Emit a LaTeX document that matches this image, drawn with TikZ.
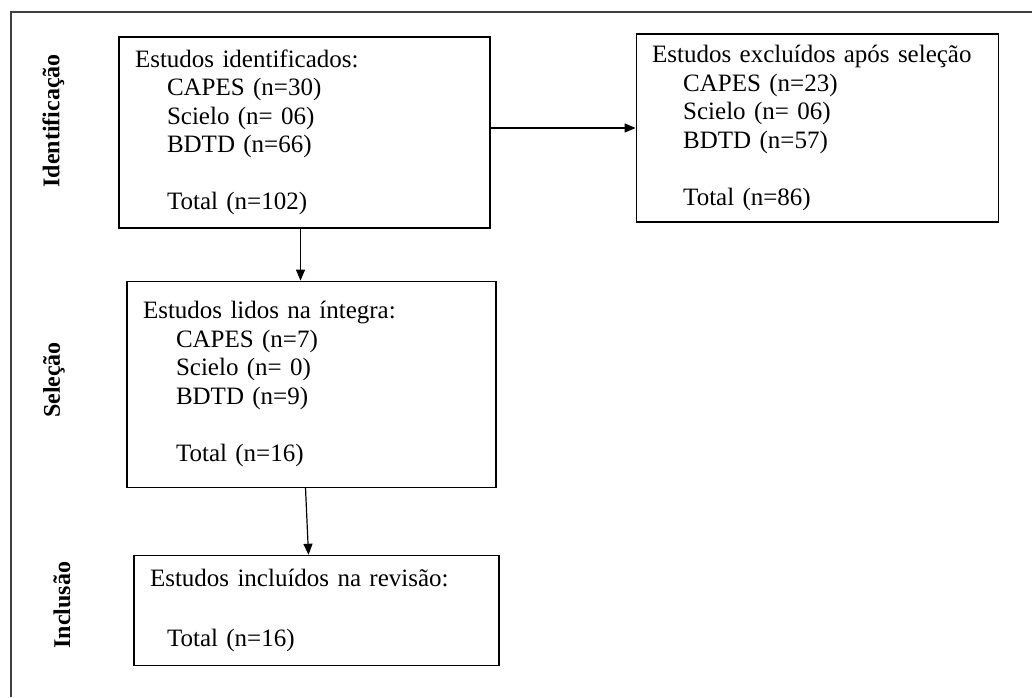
\documentclass[tikz,border=0pt]{standalone}
\usepackage{fontspec}
\setmainfont{Liberation Serif}
\usetikzlibrary{positioning, arrows.meta}

\begin{document}
\begin{tikzpicture}[x=1pt, y=1pt, node distance=52pt and 145pt]
\tikzstyle{etapa} = [rectangle, draw=black, line width=1.2pt, align=left, inner xsep=16pt, font=\fontsize{25}{28.5}\selectfont]
\tikzstyle{fase} = [rotate=90, inner sep=0pt, font=\bfseries\fontsize{24}{28}\selectfont]
\tikzstyle{seta} = [line width=1.2pt, -{Triangle[length=11pt, width=9pt]}]

\useasboundingbox (0,0) rectangle (1032,697);
% moldura
\draw [line width=1.6pt, black!75] (11,0) -- (11,685) -- (1032,685);

% Nodes
\node (ident) [etapa, text width=339pt, minimum height=191pt] at (304.5,564.5) {Estudos identificados:\\
\hspace*{32pt}CAPES (n=30)\\
\hspace*{32pt}Scielo (n= 06)\\
\hspace*{32pt}BDTD (n=66)\\[28.5pt]
\hspace*{32pt}Total (n=102)};
\node (excl) [etapa, text width=330pt, minimum height=188pt, right=of ident, yshift=4.5pt] {Estudos excluídos após seleção\\
\hspace*{31pt}CAPES (n=23)\\
\hspace*{31pt}Scielo (n= 06)\\
\hspace*{31pt}BDTD (n=57)\\[28.5pt]
\hspace*{31pt}Total (n=86)};
\node (lidos) [etapa, text width=337pt, minimum height=206pt, below=of ident, xshift=7pt] {Estudos lidos na íntegra:\\
\hspace*{33pt}CAPES (n=7)\\
\hspace*{33pt}Scielo (n= 0)\\
\hspace*{33pt}BDTD (n=9)\\[28.5pt]
\hspace*{33pt}Total (n=16)};
\node (incl) [etapa, text width=333pt, minimum height=110pt, below=67pt of lidos, xshift=5pt] {Estudos incluídos na revisão:\\[32pt]
\hspace*{17pt}Total (n=16)};

% fases
\node (fase1) [fase] at (53.5,576) {Identificação};
\node (fase2) [fase] at (54,317) {Seleção};
\node (fase3) [fase] at (62,92) {Inclusão};

% Arrows
\draw [seta] (ident.east |- excl.west) -- (excl.west);
\draw [seta] ([xshift=-4pt]ident.south) -- ([xshift=-4pt]ident.south |- lidos.north);
\draw [seta] ([xshift=-6pt]lidos.south) -- ([xshift=-8pt]incl.north);

\end{tikzpicture}
\end{document}
